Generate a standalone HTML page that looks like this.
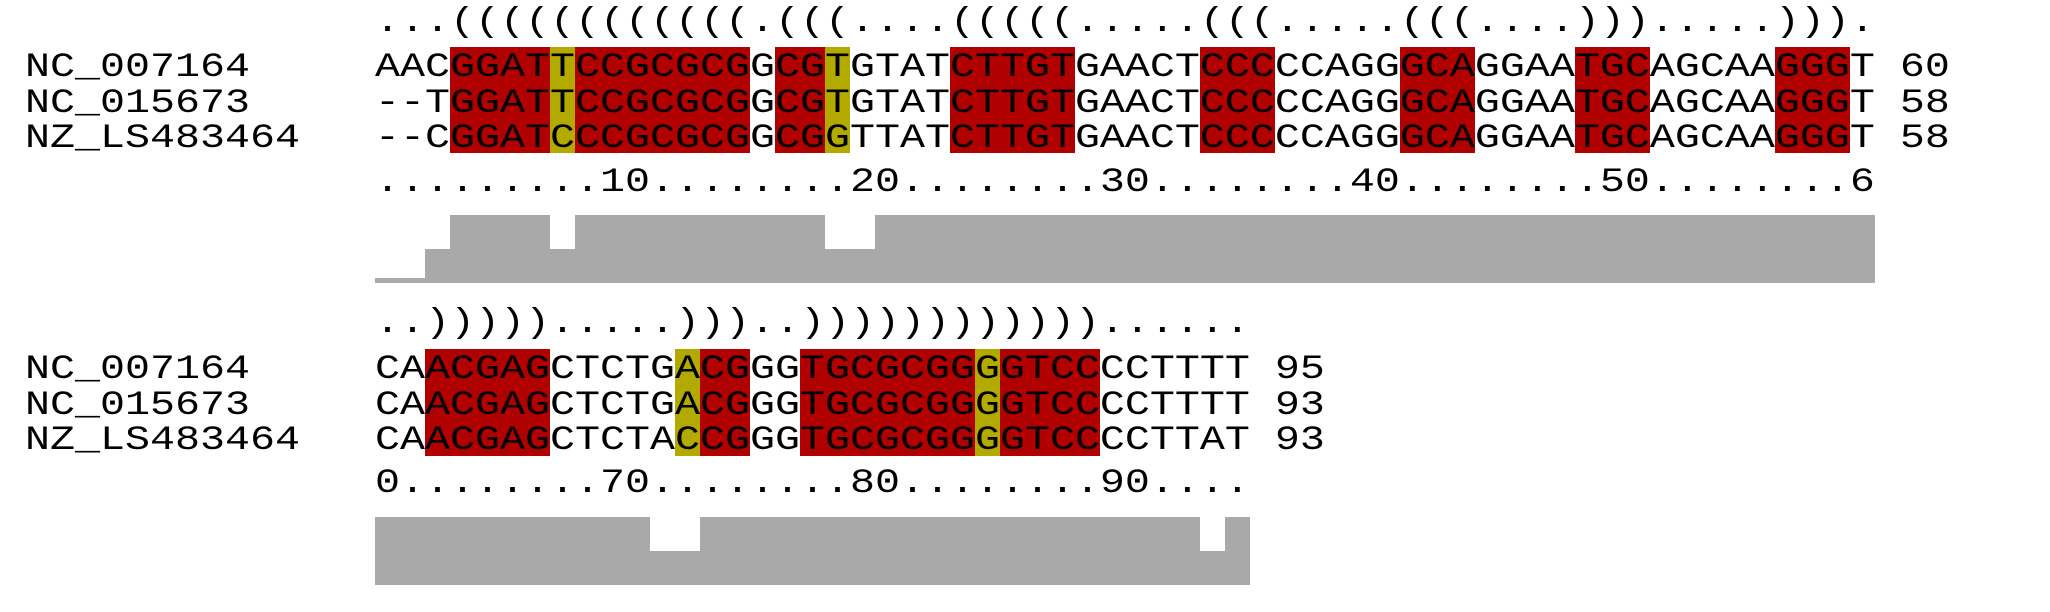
<!DOCTYPE html>
<html><head><meta charset="utf-8"><style>
html,body{margin:0;padding:0;background:#fff;width:2050px;height:612px;overflow:hidden;position:relative}
.t{position:absolute;font-family:"Liberation Mono",monospace;font-size:41.667px;line-height:41.667px;white-space:pre;color:#000;letter-spacing:0;transform:scaleY(0.82);transform-origin:0 32px}
.r{position:absolute;background:#b00000}
.y{position:absolute;background:#b3aa00}
.g{position:absolute;background:#a9a9a9}
.s{position:absolute;height:1px;background:#c24a4a}
</style></head><body>
<div style="position:absolute;left:0;top:0">
<div class="r" style="left:450px;top:47px;width:100px;height:106px"></div>
<div class="y" style="left:550px;top:47px;width:25px;height:106px"></div>
<div class="r" style="left:575px;top:47px;width:175px;height:106px"></div>
<div class="r" style="left:775px;top:47px;width:50px;height:106px"></div>
<div class="y" style="left:825px;top:47px;width:25px;height:106px"></div>
<div class="r" style="left:950px;top:47px;width:125px;height:106px"></div>
<div class="r" style="left:1200px;top:47px;width:75px;height:106px"></div>
<div class="r" style="left:1400px;top:47px;width:75px;height:106px"></div>
<div class="r" style="left:1575px;top:47px;width:75px;height:106px"></div>
<div class="r" style="left:1775px;top:47px;width:75px;height:106px"></div>
<div class="r" style="left:425px;top:349px;width:125px;height:107px"></div>
<div class="y" style="left:675px;top:349px;width:25px;height:107px"></div>
<div class="r" style="left:700px;top:349px;width:50px;height:107px"></div>
<div class="r" style="left:800px;top:349px;width:175px;height:107px"></div>
<div class="y" style="left:975px;top:349px;width:25px;height:107px"></div>
<div class="r" style="left:1000px;top:349px;width:100px;height:107px"></div>
<div class="g" style="left:375px;top:278px;width:50px;height:5px"></div>
<div class="g" style="left:425px;top:249px;width:25px;height:34px"></div>
<div class="g" style="left:450px;top:215px;width:100px;height:68px"></div>
<div class="g" style="left:550px;top:249px;width:25px;height:34px"></div>
<div class="g" style="left:575px;top:215px;width:250px;height:68px"></div>
<div class="g" style="left:825px;top:249px;width:50px;height:34px"></div>
<div class="g" style="left:875px;top:215px;width:1000px;height:68px"></div>
<div class="g" style="left:375px;top:517px;width:275px;height:68px"></div>
<div class="g" style="left:650px;top:551px;width:50px;height:34px"></div>
<div class="g" style="left:700px;top:517px;width:500px;height:68px"></div>
<div class="g" style="left:1200px;top:551px;width:25px;height:34px"></div>
<div class="g" style="left:1225px;top:517px;width:25px;height:68px"></div>
</div>
<div class="t" style="left:375px;top:0px">...((((((((((((.(((....(((((.....(((.....(((....))).....))).</div>
<div class="t" style="left:25px;top:45.3px">NC_007164</div>
<div class="t" style="left:25px;top:80.7px">NC_015673</div>
<div class="t" style="left:25px;top:116px">NZ_LS483464</div>
<div class="t" style="left:375px;top:45.3px">AACGGATTCCGCGCGGCGTGTATCTTGTGAACTCCCCCAGGGCAGGAATGCAGCAAGGGT 60</div>
<div class="t" style="left:375px;top:80.7px">--TGGATTCCGCGCGGCGTGTATCTTGTGAACTCCCCCAGGGCAGGAATGCAGCAAGGGT 58</div>
<div class="t" style="left:375px;top:116px">--CGGATCCCGCGCGGCGGTTATCTTGTGAACTCCCCCAGGGCAGGAATGCAGCAAGGGT 58</div>
<div class="t" style="left:375px;top:159.7px">.........10........20........30........40........50........6</div>
<div class="t" style="left:375px;top:301px">..))))).....)))..))))))))))))......</div>
<div class="t" style="left:25px;top:347px">NC_007164</div>
<div class="t" style="left:25px;top:382.6px">NC_015673</div>
<div class="t" style="left:25px;top:418.2px">NZ_LS483464</div>
<div class="t" style="left:375px;top:347px">CAACGAGCTCTGACGGGTGCGCGGGGTCCCCTTTT 95</div>
<div class="t" style="left:375px;top:382.6px">CAACGAGCTCTGACGGGTGCGCGGGGTCCCCTTTT 93</div>
<div class="t" style="left:375px;top:418.2px">CAACGAGCTCTACCGGGTGCGCGGGGTCCCCTTAT 93</div>
<div class="t" style="left:375px;top:460.7px">0........70........80........90....</div>
</body></html>
